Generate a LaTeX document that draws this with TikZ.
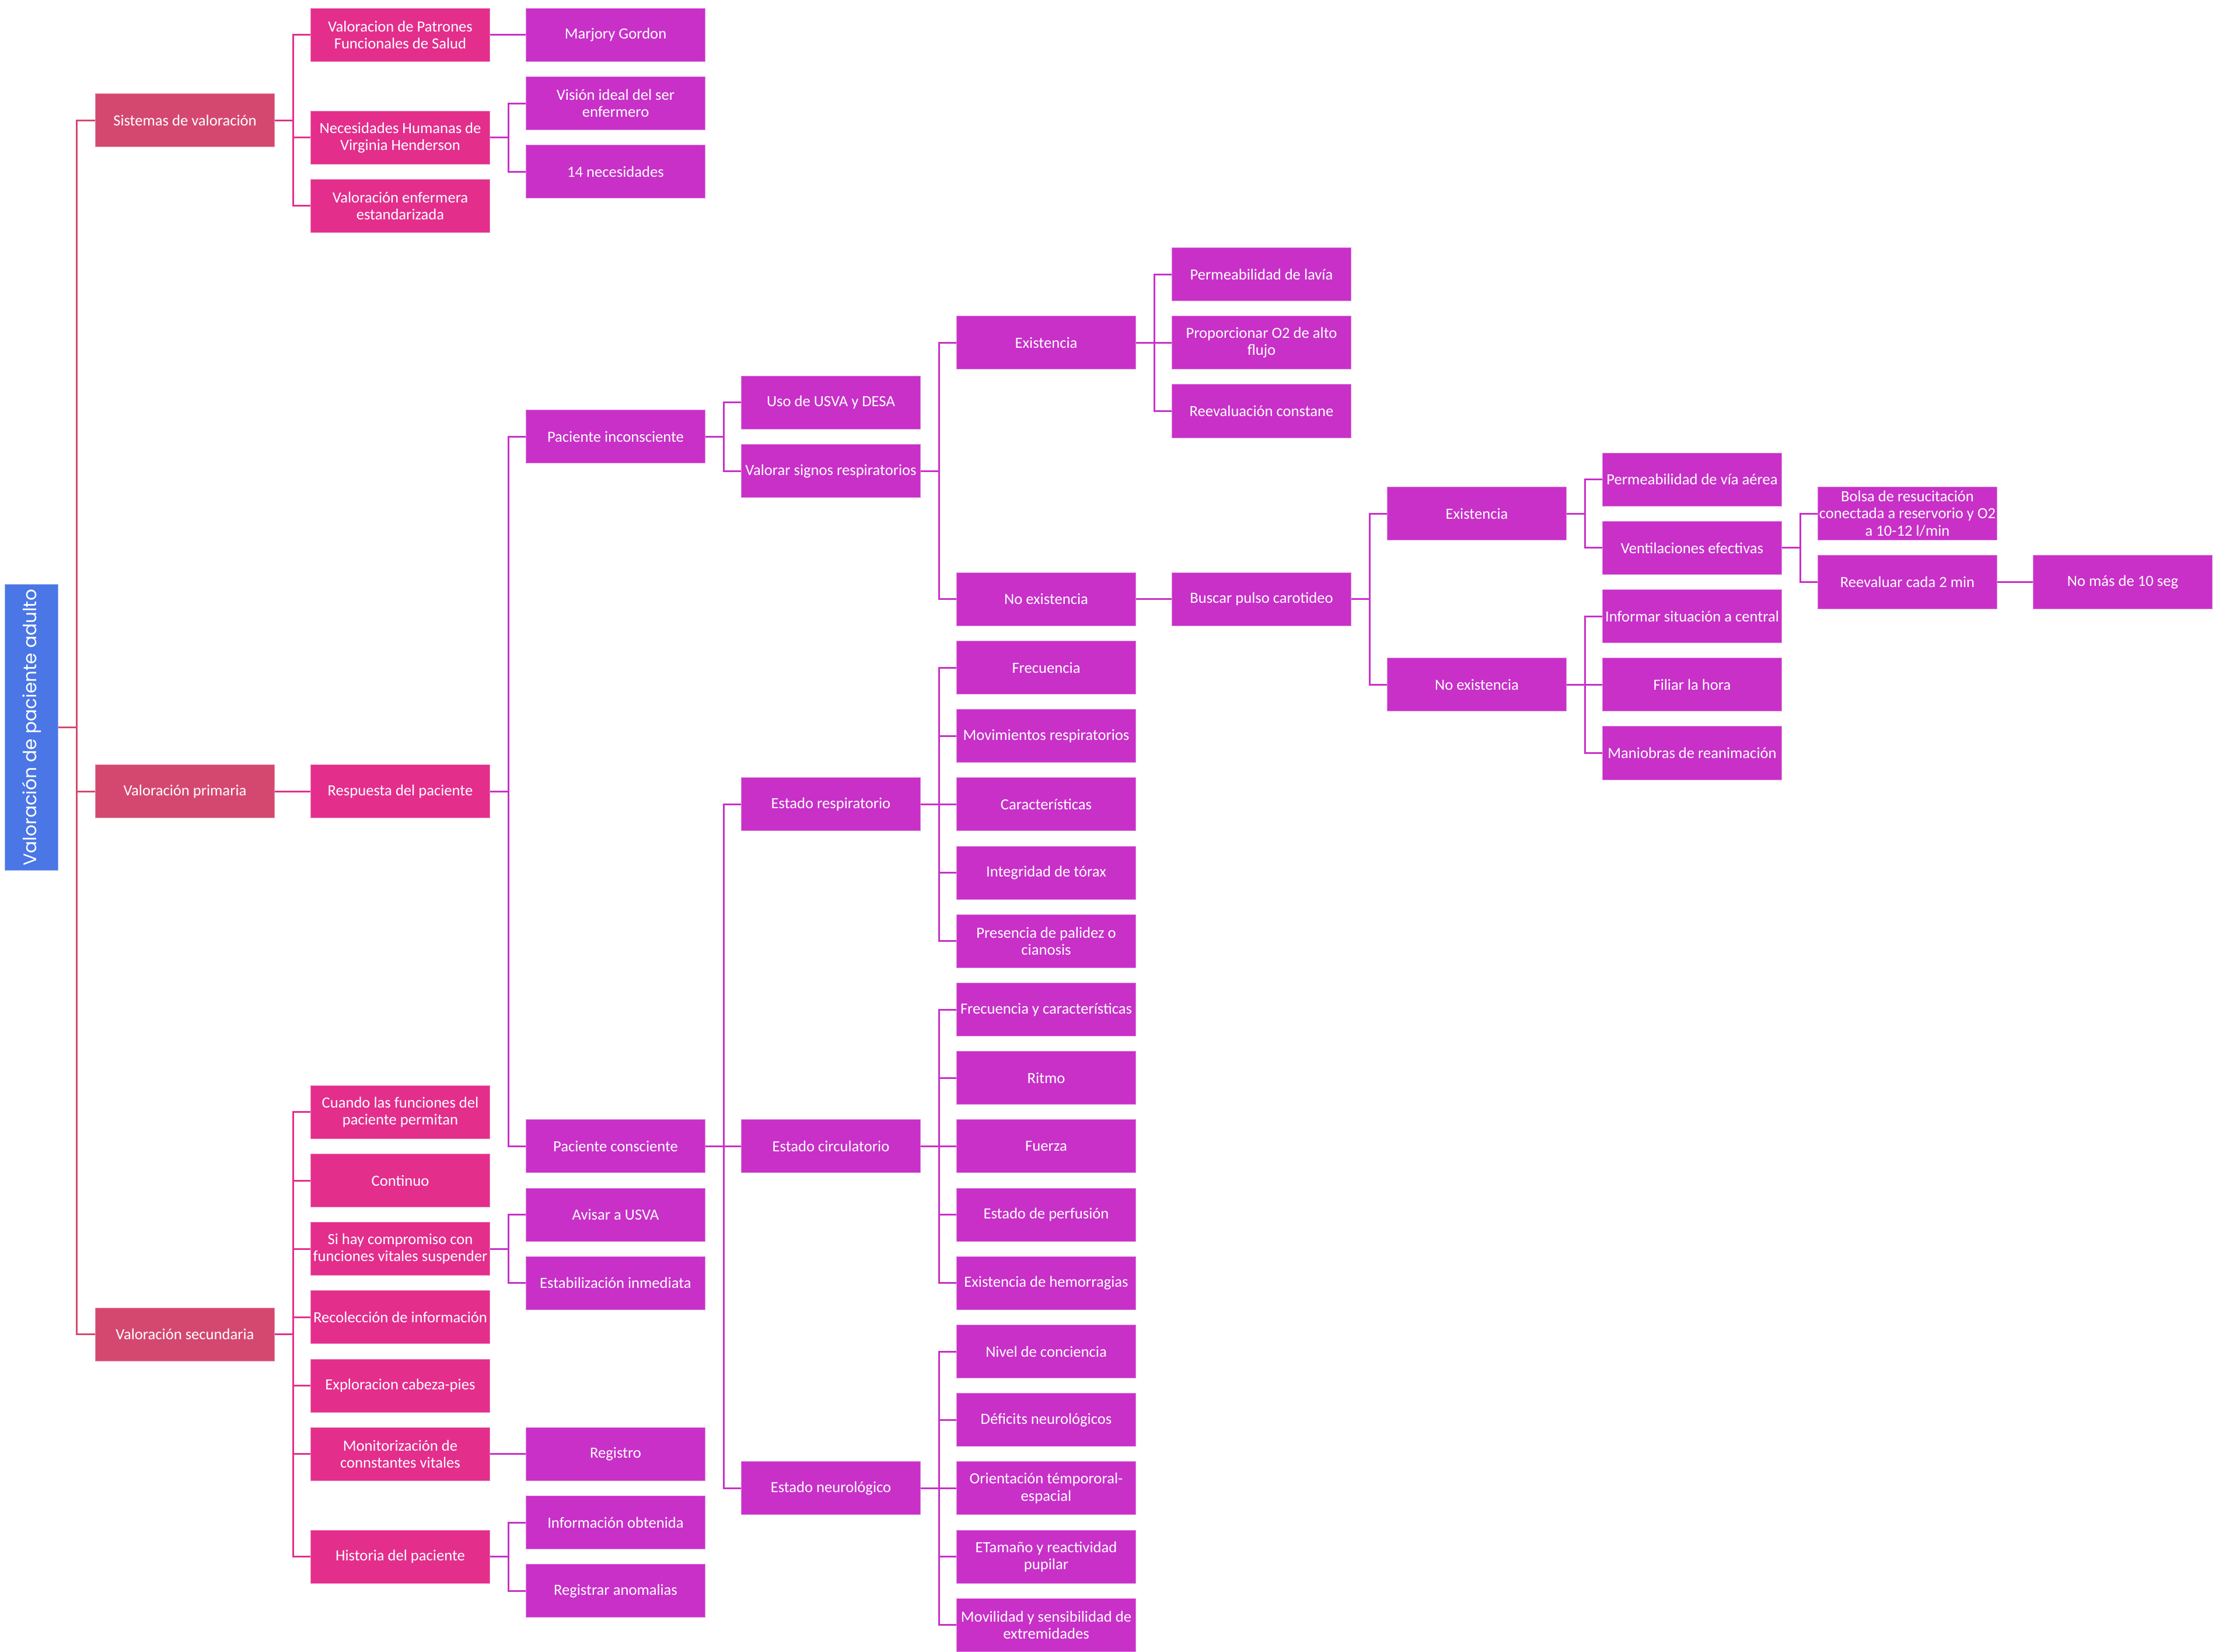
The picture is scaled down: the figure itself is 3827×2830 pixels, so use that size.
\documentclass[tikz,border=0pt]{standalone}
\usepackage{fontspec}
\setmainfont{Carlito}
\newfontfamily\fuenteraiz{Poppins}
\usetikzlibrary{positioning}

\definecolor{azulraiz}{HTML}{4A76E6}
\definecolor{rosaA}{HTML}{D4486F}
\definecolor{rosaB}{HTML}{E32E8C}
\definecolor{moradoC}{HTML}{C830C8}

% posiciones: columnas y filas (en px del dibujo)
\newcommand\cx[1]{369*#1-52}
\newcommand\ry[1]{1144+117.2*#1}
\newcommand\fuente{\fontsize{7.57pt}{8.3pt}\selectfont}
% ramas de un padre hacia sus hijos
\newcommand\ramas[3]{\foreach \hijo in {#3}{\draw[#1] (#2.east) -- ++(32,0) |- (\hijo.west);}}

\tikzset{
    caja/.style={rectangle, fill=#1, draw=#1!60!white, line width=0.01cm, text=white,
        minimum width=3.06cm, minimum height=0.91cm, inner sep=0.5pt, align=center, font=\fuente},
    n1/.style={caja=rosaA},
    n2/.style={caja=rosaB},
    n3/.style={caja=moradoC},
    raiz/.style={rectangle, fill=azulraiz, draw=azulraiz!60!white, line width=0.01cm, text=white,
        minimum width=0.9cm, minimum height=4.9cm, inner sep=0pt},
    l1/.style={draw=rosaA, line width=0.03cm},
    l2/.style={draw=rosaB, line width=0.03cm},
    l3/.style={draw=moradoC, line width=0.03cm}
}

\begin{document}
\begin{tikzpicture}[x=0.01cm, y=-0.01cm]
    \useasboundingbox (0,0) rectangle (3827,2830);

    % Raiz
    \node[raiz] (raiz) at (54,\ry{0.875}) {\rotatebox{90}{\fontsize{8.85pt}{10pt}\fuenteraiz Valoración de paciente adulto}};

    % Nivel 1
    \node[n1] (sistemas) at (\cx{1},\ry{-8}) {Sistemas de valoración};
    \node[n1] (primaria) at (\cx{1},\ry{1.8125}) {Valoración primaria};
    \node[n1] (secundaria) at (\cx{1},\ry{9.75}) {Valoración secundaria};

    % Nivel 2
    \node[n2] (patrones) at (\cx{2},\ry{-9.25}) {Valoracion de Patrones\\Funcionales de Salud};
    \node[n2] (henderson) at (\cx{2},\ry{-7.75}) {Necesidades Humanas de\\Virginia Henderson};
    \node[n2] (estandar) at (\cx{2},\ry{-6.75}) {Valoración enfermera\\estandarizada};
    \node[n2] (respuesta) at (\cx{2},\ry{1.8125}) {Respuesta del paciente};
    \node[n2] (cuando) at (\cx{2},\ry{6.5}) {Cuando las funciones del\\paciente permitan};
    \node[n2] (continuo) at (\cx{2},\ry{7.5}) {Continuo};
    \node[n2] (compromiso) at (\cx{2},\ry{8.5}) {Si hay compromiso con\\funciones vitales suspender};
    \node[n2] (recoleccion) at (\cx{2},\ry{9.5}) {Recolección de información};
    \node[n2] (exploracion) at (\cx{2},\ry{10.5}) {Exploracion cabeza-pies};
    \node[n2] (monitor) at (\cx{2},\ry{11.5}) {Monitorización de\\connstantes vitales};
    \node[n2] (historia) at (\cx{2},\ry{13}) {Historia del paciente};

    % Nivel 3
    \node[n3] (gordon) at (\cx{3},\ry{-9.25}) {Marjory Gordon};
    \node[n3] (vision) at (\cx{3},\ry{-8.25}) {Visión ideal del ser\\enfermero};
    \node[n3] (necesidades) at (\cx{3},\ry{-7.25}) {14 necesidades};
    \node[n3] (inconsciente) at (\cx{3},\ry{-3.375}) {Paciente inconsciente};
    \node[n3] (consciente) at (\cx{3},\ry{7}) {Paciente consciente};
    \node[n3] (avisar) at (\cx{3},\ry{8}) {Avisar a USVA};
    \node[n3] (estabil) at (\cx{3},\ry{9}) {Estabilización inmediata};
    \node[n3] (registro) at (\cx{3},\ry{11.5}) {Registro};
    \node[n3] (infobt) at (\cx{3},\ry{12.5}) {Información obtenida};
    \node[n3] (anomalias) at (\cx{3},\ry{13.5}) {Registrar anomalias};

    % Nivel 4
    \node[n3] (usva) at (\cx{4},\ry{-3.875}) {Uso de USVA y DESA};
    \node[n3] (signos) at (\cx{4},\ry{-2.875}) {Valorar signos respiratorios};
    \node[n3] (estresp) at (\cx{4},\ry{2}) {Estado respiratorio};
    \node[n3] (estcirc) at (\cx{4},\ry{7}) {Estado circulatorio};
    \node[n3] (estneuro) at (\cx{4},\ry{12}) {Estado neurológico};

    % Nivel 5
    \node[n3] (exist) at (\cx{5},\ry{-4.75}) {Existencia};
    \node[n3] (noexist) at (\cx{5},\ry{-1}) {No existencia};
    \foreach \nom/\txt [count=\k from 0] in {frec/Frecuencia, movim/Movimientos respiratorios,
        caract/Características, torax/Integridad de tórax, palidez/Presencia de palidez o\\cianosis,
        freccar/Frecuencia y características, ritmo/Ritmo, fuerza/Fuerza,
        perfusion/Estado de perfusión, hemorr/Existencia de hemorragias,
        conciencia/Nivel de conciencia, deficit/Déficits neurológicos,
        orient/Orientación témpororal-\\espacial, pupilar/ETamaño y reactividad\\pupilar,
        movilidad/Movilidad y sensibilidad de\\extremidades}
        \node[n3] (\nom) at (\cx{5},\ry{\k}) {\txt};

    % Nivel 6
    \node[n3] (lavia) at (\cx{6},\ry{-5.75}) {Permeabilidad de lavía};
    \node[n3] (oxigeno) at (\cx{6},\ry{-4.75}) {Proporcionar O2 de alto\\flujo};
    \node[n3] (reeval) at (\cx{6},\ry{-3.75}) {Reevaluación constane};
    \node[n3] (pulso) at (\cx{6},\ry{-1}) {Buscar pulso carotideo};

    % Niveles 7 a 10
    \node[n3] (exist2) at (\cx{7},\ry{-2.25}) {Existencia};
    \node[n3] (noexist2) at (\cx{7},\ry{0.25}) {No existencia};
    \node[n3] (permva) at (\cx{8},\ry{-2.75}) {Permeabilidad de vía aérea};
    \node[n3] (ventil) at (\cx{8},\ry{-1.75}) {Ventilaciones efectivas};
    \node[n3] (informar) at (\cx{8},\ry{-0.75}) {Informar situación a central};
    \node[n3] (filiar) at (\cx{8},\ry{0.25}) {Filiar la hora};
    \node[n3] (maniobras) at (\cx{8},\ry{1.25}) {Maniobras de reanimación};
    \node[n3] (bolsa) at (\cx{9},\ry{-2.25}) {Bolsa de resucitación\\conectada a reservorio y O2\\a 10-12 l/min};
    \node[n3] (cada2) at (\cx{9},\ry{-1.25}) {Reevaluar cada 2 min};
    \node[n3] (diezseg) at (\cx{10},\ry{-1.25}) {No más de 10 seg};

    % Conectores
    \ramas{l1}{raiz}{sistemas,primaria,secundaria}
    \ramas{l2}{sistemas}{patrones,henderson,estandar}
    \ramas{l2}{primaria}{respuesta}
    \ramas{l2}{secundaria}{cuando,continuo,compromiso,recoleccion,exploracion,monitor,historia}
    \ramas{l3}{patrones}{gordon}
    \ramas{l3}{henderson}{vision,necesidades}
    \ramas{l3}{respuesta}{inconsciente,consciente}
    \ramas{l3}{compromiso}{avisar,estabil}
    \ramas{l3}{monitor}{registro}
    \ramas{l3}{historia}{infobt,anomalias}
    \ramas{l3}{inconsciente}{usva,signos}
    \ramas{l3}{consciente}{estresp,estcirc,estneuro}
    \ramas{l3}{signos}{exist,noexist}
    \ramas{l3}{estresp}{frec,movim,caract,torax,palidez}
    \ramas{l3}{estcirc}{freccar,ritmo,fuerza,perfusion,hemorr}
    \ramas{l3}{estneuro}{conciencia,deficit,orient,pupilar,movilidad}
    \ramas{l3}{exist}{lavia,oxigeno,reeval}
    \ramas{l3}{noexist}{pulso}
    \ramas{l3}{pulso}{exist2,noexist2}
    \ramas{l3}{exist2}{permva,ventil}
    \ramas{l3}{noexist2}{informar,filiar,maniobras}
    \ramas{l3}{ventil}{bolsa,cada2}
    \ramas{l3}{cada2}{diezseg}
\end{tikzpicture}
\end{document}
